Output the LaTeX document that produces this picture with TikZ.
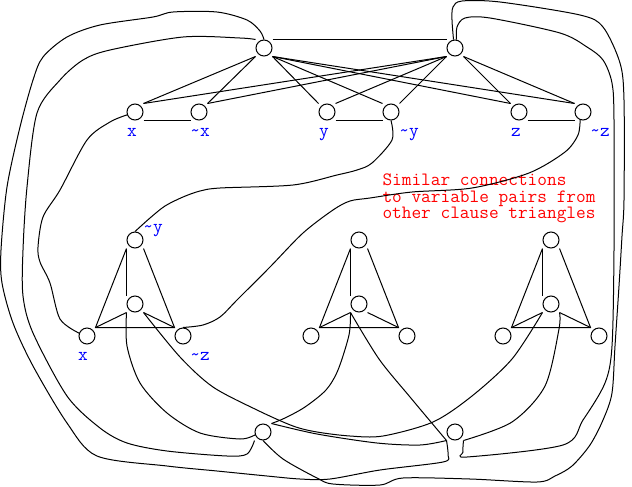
\documentclass[tikz,border=0pt]{standalone}
\usepackage{fontspec}
\begin{document}
\begin{tikzpicture}[x=0.75pt,y=-0.75pt,line width=0.75pt,
        vtx/.style={draw,circle,minimum size=12pt,inner sep=0pt},
        lit/.style={text=blue,font=\ttfamily\fontsize{14.1}{17}\selectfont,anchor=base,inner sep=0pt},
        note/.style={text=red,font=\ttfamily\fontsize{14.1}{12.375}\selectfont,align=left,anchor=north west,inner sep=0pt}]
        %三著色歸約：上方兩點、變數對、子句三角形、下方兩點
        \useasboundingbox (0,0) rectangle (632,486);

        \node[vtx] (TopL) at (264,48) {};
        \node[vtx] (TopR) at (455,48) {};
        \node[vtx] (BotL) at (263,432) {};
        \node[vtx] (BotR) at (455,432) {};

        \foreach \v/\px/\lx/\t in
        { x/135/132/x,
            nx/199/200/\textasciitilde x,
            y/327/324/y,
            ny/391/409/\textasciitilde y,
            z/519/516/z,
            nz/583/600/\textasciitilde z
        }
        {
            \node[vtx] (\v) at (\px,112) {};
            \node[lit] (\v-txt) at (\lx,136) {\t};
        };

        \foreach \k/\cx in {1/135,2/359,3/551}
        {
            \node[vtx] (Apex\k) at (\cx,240) {};
            \node[vtx] (Mid\k) at (\cx,304) {};
            \node[vtx] (Left\k) at (\cx-48,336) {};
            \node[vtx] (Right\k) at (\cx+48,336) {};
        };

        \node[lit] (ny-txt2) at (153,232) {\textasciitilde y};
        \node[lit] (x-txt2) at (83,360) {x};
        \node[lit] (nz-txt2) at (200,360) {\textasciitilde z};
        \node[note] (note) at (382,173.5) {Similar connections\\to variable pairs from\\other clause triangles};

        % corners of the box round every circle
        \foreach \n in {TopL,TopR,BotL,BotR,x,nx,y,ny,z,nz,Apex1,Mid1,Left1,Right1,Apex2,Mid2,Left2,Right2,Apex3,Mid3,Left3,Right3}
        {
            \coordinate (\n-nw) at (\n.north -| \n.west);
            \coordinate (\n-ne) at (\n.north -| \n.east);
            \coordinate (\n-sw) at (\n.south -| \n.west);
            \coordinate (\n-se) at (\n.south -| \n.east);
        };

        \draw (TopL-ne) -- (TopR-nw);
        \foreach \v/\a/\b/\c/\d in {x/sw/ne/sw/ne, nx/sw/ne/sw/ne, y/se/nw/sw/ne, ny/se/nw/sw/ne, z/se/nw/se/nw, nz/se/nw/se/nw}
        {
            \draw (TopL-\a) -- (\v-\b);
            \draw (TopR-\c) -- (\v-\d);
        };
        \draw (x-se) -- (nx-sw) (y-se) -- (ny-sw) (z-se) -- (nz-sw);

        \foreach \k in {1,2,3}
        {
            \draw (Apex\k-sw) -- (Left\k-ne) -- (Right\k-nw) -- (Apex\k-se);
            \draw (Left\k-ne) -- (Mid\k-sw) (Right\k-nw) -- (Mid\k-se);
            \draw (Apex\k-sw) -- (Mid\k-nw);
        };

        % from the variable pairs down to the first clause
        \draw plot[smooth] coordinates {(ny.south) (392,140) (372,163) (357,170) (337,175) (293,185) (220,188) (200,191) (183,197) (165,206) (150,218) (Apex1.north)};
        \draw plot[smooth] coordinates {(nz.250) (578,135) (565,152) (529,173) (472,188) (412,192) (370,198) (350,201) (333,210) (303,233) (270,267) (237,300) (220,317) (203,325) (Right1.north)};
        \draw plot[smooth] coordinates {(x.200) (110,122) (87,140) (60,190) (43,217) (38,247) (40,262) (50,283) (60,319) (Left1.160)};

        % round the outside
        \draw plot[smooth] coordinates {(TopL.north) (260,31) (247,20) (217,12) (173,12) (153,17) (100,25) (67,37) (43,57) (33,80) (20,127) (7,187) (1,250) (2,283) (13,323) (33,366) (67,423) (97,456) (167,466) (217,471) (267,476) (300,479) (330,479) (380,470) (443,462) (448,455) (BotR-sw)};
        \draw plot[smooth] coordinates {(TopL-nw) (240,38) (183,37) (110,50) (83,60) (60,80) (37,113) (27,187) (23,250) (23,296) (33,333) (67,396) (100,428) (127,443) (167,451) (227,456) (247,454) (BotL-sw)};
        \draw plot[smooth] coordinates {(BotL.south) (283,459) (317,478) (333,484) (380,485) (403,478) (470,479) (537,482) (555,476) (572,466) (590,445) (603,420) (612,393) (615,346) (619,286) (622,236) (624,200) (624,100) (620,63) (603,27) (580,15) (500,2) (462,1) (453,7) (452,20) (TopR.100)};
        \draw plot[smooth] coordinates {(TopR.80) (457,27) (465,18) (490,18) (560,33) (587,47) (603,60) (612,83) (614,120) (614,250) (612,346) (605,383) (583,420) (563,445) (467,457) (463,452) (BotR-se)};

        % from the clause centres to the bottom
        \draw plot[smooth] coordinates {(Mid1-sw) (127,346) (140,383) (167,413) (200,433) (240,439) (BotL.200)};
        \draw plot[smooth] coordinates {(Mid1-se) (180,357) (213,387) (257,410) (293,426) (317,432) (350,436) (383,436) (433,422) (472,396) (512,359) (Mid3-sw)};
        \draw plot[smooth] coordinates {(Mid2-sw) (349,335) (338,370) (326,390) (305,407) (285,418) (BotL-ne)};
        \draw plot[smooth] coordinates {(Mid2-sw) (379,359) (410,397) (BotR-sw)};
        \draw plot[smooth] coordinates {(Mid3-se) (559,329) (545,386) (512,422) (BotR-se)};
        \draw plot[smooth] coordinates {(BotL-ne) (317,434) (377,443) (420,445) (BotR-sw)};
\end{tikzpicture}
\end{document}
